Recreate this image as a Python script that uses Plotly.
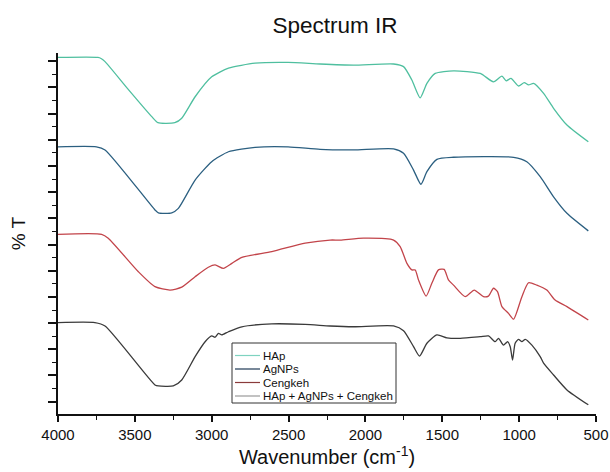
import plotly.graph_objects as go

# ---- data (wavenumber, cm-1 ; stacked %T in arbitrary offset units) ----
series_names = ["HAp", "AgNPs", "Cengkeh", "HAp + AgNPs + Cengkeh"]

wn_hap = [4000, 3740, 3720, 3694, 3550, 3390, 3350, 3240, 3195, 3108, 3000, 2891, 2718, 2503,
          2295, 2078, 1817, 1752, 1698, 1644, 1600, 1546, 1427, 1253, 1167, 1112, 1084, 1053,
          1004, 967, 939, 906, 841, 776, 689, 550]
t_hap = [131.4, 131.4, 131.0, 129.8, 119.7, 108.8, 106.5, 106.5, 108.2, 116.4, 124.0, 127.3, 129.2, 129.5,
         128.9, 128.5, 128.9, 127.9, 122.8, 116.0, 121.5, 125.3, 126.3, 125.3, 122.1, 124.3, 122.5, 123.4,
         120.5, 121.8, 120.9, 121.5, 117.7, 112.0, 105.6, 99.2]

wn_ag = [4000, 3750, 3694, 3369, 3347, 3260, 3217, 3108, 3000, 2891, 2718, 2503, 2295, 2078,
         1817, 1752, 1687, 1639, 1600, 1535, 1427, 1036, 950, 863, 776, 689, 550]
t_ag = [97.3, 97.3, 96.1, 73.2, 72.1, 72.1, 73.8, 84.6, 91.6, 95.4, 97.1, 97.3, 96.3, 96.1,
        96.5, 94.8, 88.4, 83.0, 87.8, 92.5, 93.3, 93.3, 91.6, 85.9, 78.2, 71.9, 65.2]

wn_ck = [4000, 3716, 3673, 3477, 3369, 3271, 3195, 3108, 3022, 2978, 2924, 2869, 2804, 2609,
         2392, 2230, 2164, 2013, 1817, 1774, 1730, 1698, 1676, 1655, 1605, 1568, 1525, 1488,
         1460, 1427, 1351, 1292, 1232, 1200, 1167, 1141, 1112, 1069, 1036, 982, 939, 885,
         820, 766, 689, 550]
t_ck = [63.9, 63.9, 62.4, 49.6, 43.9, 42.6, 43.7, 47.7, 51.3, 52.2, 50.9, 52.8, 55.1, 57.3,
        60.5, 61.7, 61.7, 62.4, 61.7, 59.2, 52.8, 50.3, 50.3, 46.5, 40.3, 45.2, 50.3, 50.5,
        46.5, 44.5, 40.1, 42.6, 40.1, 40.3, 43.3, 42.0, 36.3, 33.7, 31.5, 40.1, 45.4, 44.5,
        42.6, 38.8, 36.3, 31.2]

wn_mix = [4000, 3760, 3694, 3369, 3347, 3250, 3195, 3108, 3043, 3000, 2978, 2957, 2935, 2891,
          2804, 2609, 2392, 2230, 2078, 1817, 1752, 1687, 1648, 1600, 1535, 1470, 1383, 1253,
          1199, 1156, 1134, 1102, 1075, 1058, 1043, 1026, 1004, 982, 960, 917, 863, 841,
          776, 689, 550]
t_mix = [30.2, 30.2, 28.9, 6.4, 6.0, 6.0, 8.3, 17.2, 22.9, 25.1, 24.6, 26.1, 25.5, 26.7,
         28.6, 29.7, 29.5, 28.9, 28.6, 28.9, 27.1, 21.0, 17.4, 22.3, 25.5, 24.4, 24.2, 24.8,
         25.1, 22.9, 24.2, 21.6, 22.9, 21.0, 15.9, 22.3, 23.8, 22.9, 23.8, 21.6, 17.2, 14.7,
         10.2, 4.5, -1.2]

x_ticks = [4000, 3500, 3000, 2500, 2000, 1500, 1000, 500]

colors = ["#4fbf9f", "#2b5f80", "#c2444a", "#3a3a3a"]
legend_colors = ["#7fd3c0", "#1f3a55", "#8a3b3b", "#9a9a9a"]

# ---- layout geometry ----
W, H = 610, 472
ML, MR, MT, MB = 58, 14, 53, 58
PW, PH = W - ML - MR, H - MT - MB


def px2paper_x(px):
    return (px - ML) / PW


def px2paper_y(py):
    return (H - MB - py) / PH


fig = go.Figure()
for name, xs, ys, c in zip(series_names, [wn_hap, wn_ag, wn_ck, wn_mix],
                           [t_hap, t_ag, t_ck, t_mix], colors):
    fig.add_trace(go.Scatter(x=xs, y=ys, mode="lines", name=name,
                             line=dict(color=c, width=1.3, shape="spline", smoothing=0.6),
                             showlegend=False))

# custom compact legend (box + samples + labels)
shapes = [dict(type="rect", xref="paper", yref="paper",
               x0=px2paper_x(232), x1=px2paper_x(396),
               y0=px2paper_y(403), y1=px2paper_y(343),
               line=dict(color="#333333", width=1), fillcolor="white", layer="above")]
annotations = []
rows_y = [355.5, 369, 382.5, 396]
for name, c, ry in zip(series_names, legend_colors, rows_y):
    shapes.append(dict(type="line", xref="paper", yref="paper",
                       x0=px2paper_x(235), x1=px2paper_x(260),
                       y0=px2paper_y(ry), y1=px2paper_y(ry),
                       line=dict(color=c, width=1.2), layer="above"))
    annotations.append(dict(text=name, xref="paper", yref="paper",
                            x=px2paper_x(261), y=px2paper_y(ry),
                            xanchor="left", yanchor="middle", showarrow=False,
                            font=dict(family="Liberation Sans, Arial", size=11.5, color="#111111")))

fig.update_layout(
    width=W, height=H,
    margin=dict(l=ML, r=MR, t=MT, b=MB, autoexpand=False),
    paper_bgcolor="white", plot_bgcolor="white",
    font=dict(family="Liberation Sans, Arial", color="#111111"),
    title=dict(text="Spectrum IR", x=335 / W, xanchor="center",
               y=1 - 25 / H, yanchor="middle",
               font=dict(size=22.5, color="#111111")),
    shapes=shapes, annotations=annotations,
    xaxis=dict(range=[4000, 500], tickvals=x_ticks, ticktext=[str(v) for v in x_ticks],
               automargin=False,
               showline=True, linecolor="#111111", linewidth=1.5, mirror=False,
               ticks="outside", ticklen=6, tickwidth=1.5, tickcolor="#111111",
               minor=dict(dtick=250, ticks="outside", ticklen=4, tickwidth=1.3, tickcolor="#111111"),
               showgrid=False, zeroline=False,
               tickfont=dict(size=15, color="#111111"),
               title=dict(text="Wavenumber (cm<sup>-1</sup>)", font=dict(size=20, color="#111111"),
                          standoff=4)),
    yaxis=dict(range=[-4.7, 133.1], tick0=0, dtick=10,
               automargin=False,
               showticklabels=False,
               showline=True, linecolor="#111111", linewidth=1.5,
               ticks="outside", ticklen=8, tickwidth=1.5, tickcolor="#111111",
               minor=dict(dtick=5, ticks="outside", ticklen=4, tickwidth=1.3, tickcolor="#111111"),
               showgrid=False, zeroline=False,
               title=dict(text="% T", font=dict(size=19, color="#111111"), standoff=18)),
)

fig.write_html("out.html", config={"displayModeBar": False},
               post_script="document.body.style.margin='0px';document.body.style.overflow='hidden';")
